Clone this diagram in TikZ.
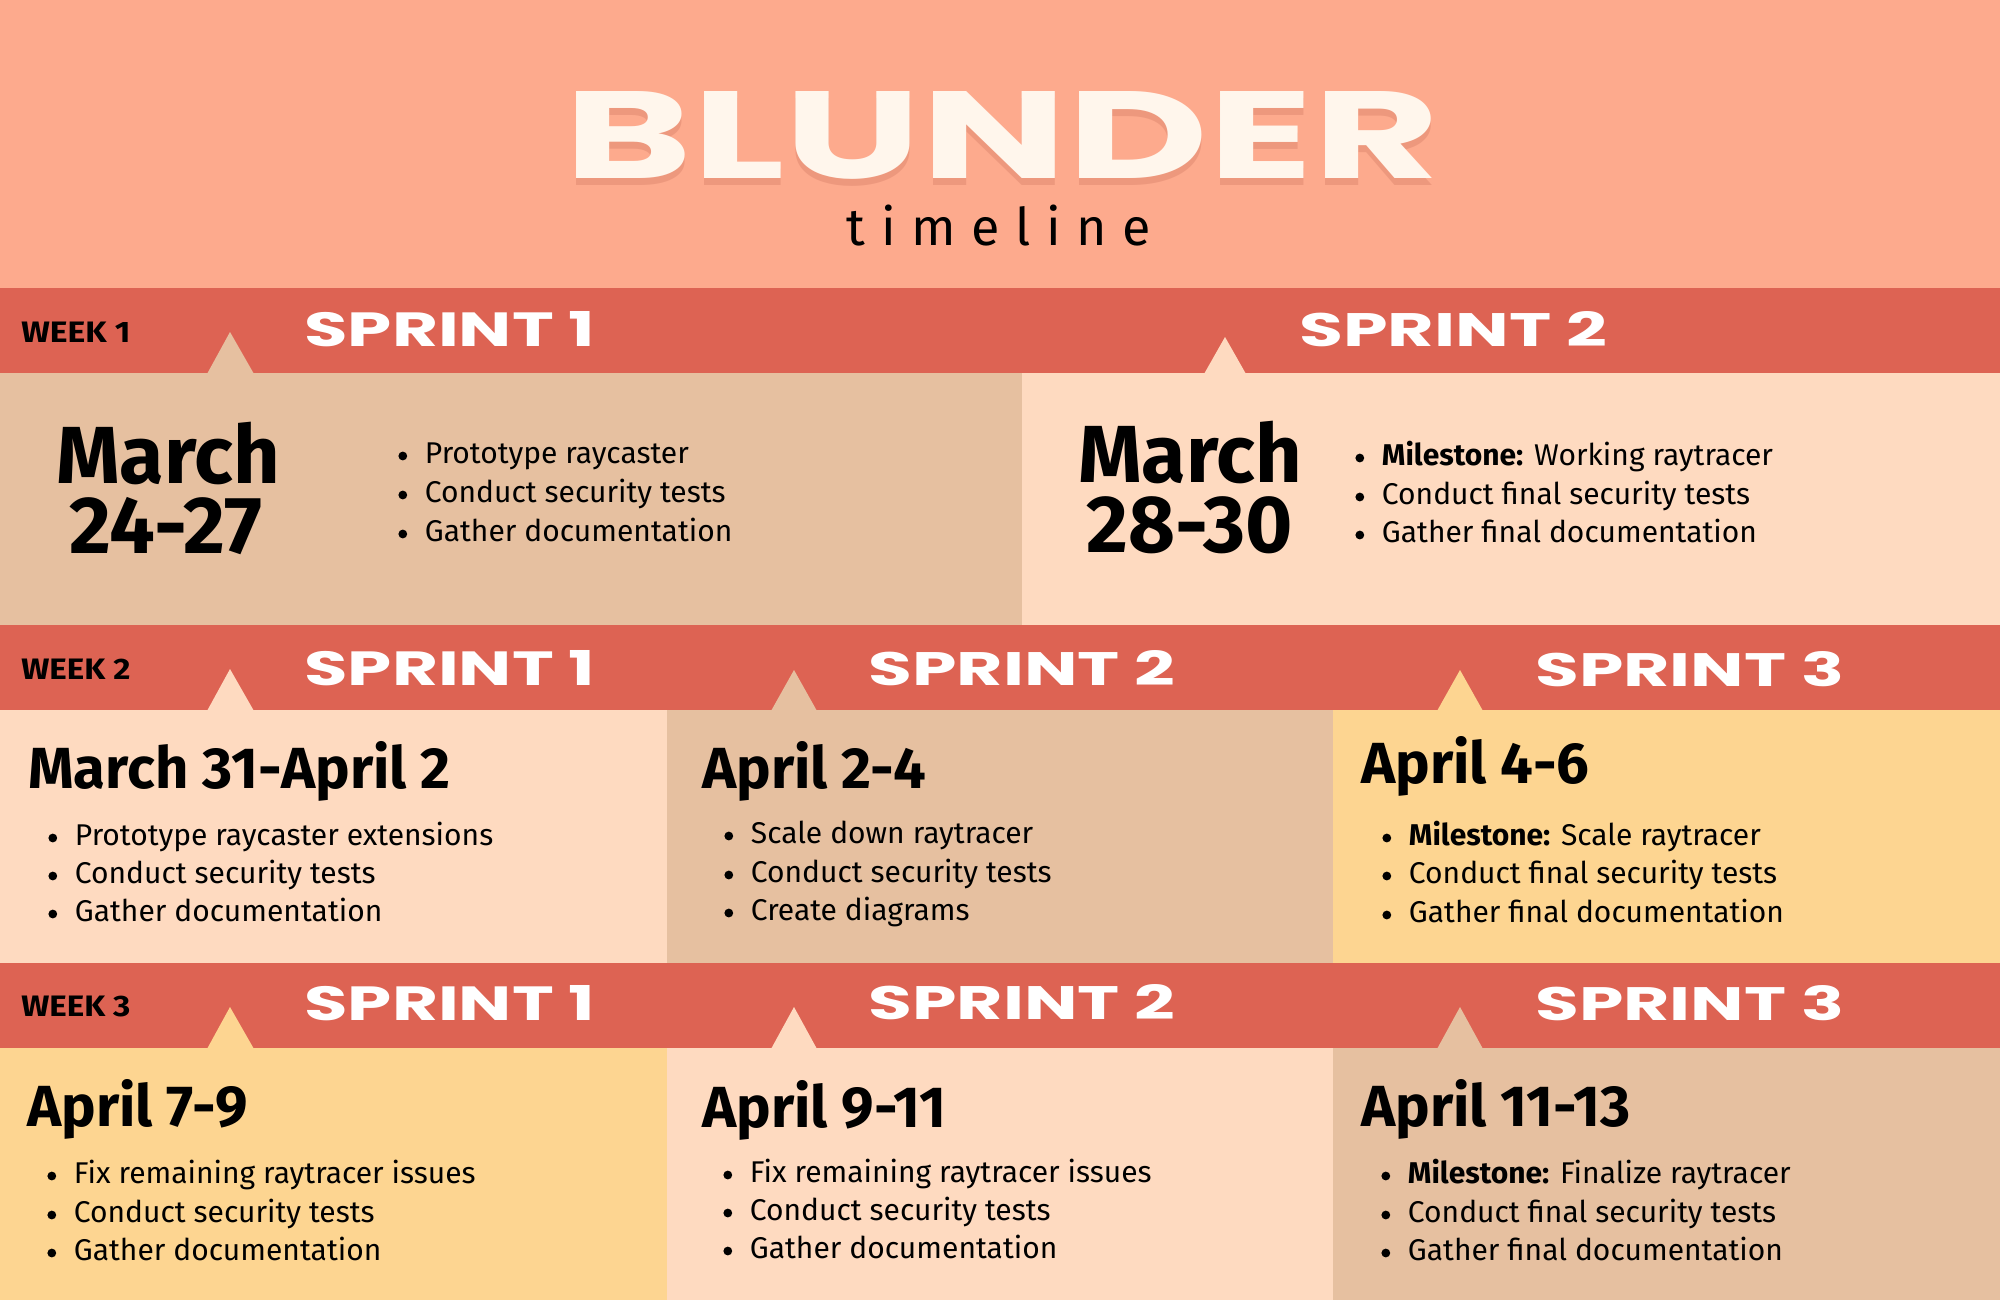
\documentclass[tikz,border=0pt]{standalone}
\usepackage{fontspec}
\setmainfont{Fira Sans}
\newfontfamily\heavy{Poppins}
\newfontfamily\spaced{Fira Sans}[LetterSpace=30]
\definecolor{hdr}{RGB}{253,170,141}
\definecolor{band}{RGB}{221,99,83}
\definecolor{tan}{RGB}{230,192,160}
\definecolor{peach}{RGB}{254,218,192}
\definecolor{yel}{RGB}{253,213,145}
\definecolor{cream}{RGB}{255,246,236}
\definecolor{shadowc}{RGB}{190,100,80}
\newcommand\bul{\makebox[13.25pt][l]{\tikz[baseline=0pt]\fill[black] (2.2pt,3.5pt) circle[radius=2.2pt];}}
\newcommand\sprintlbl[2]{\resizebox{#1}{17.5pt}{\heavy\bfseries SPRINT #2}}
\newcommand\weeklbl[1]{\resizebox{54.5pt}{10.25pt}{\bfseries WEEK #1}}
\tikzset{
  txt/.style={inner sep=0, anchor=base west},
  bl/.style={txt, font=\fontsize{15}{17}\selectfont},
  dt/.style={txt, font=\bfseries\fontsize{29}{31}\selectfont},
  bigdt/.style={inner sep=0, anchor=base, font=\bfseries\fontsize{40.5}{42}\selectfont},
  sprint/.style={txt, text=white},
  week/.style={txt, text=black},
}
\begin{document}
\begin{tikzpicture}[x=0.5pt,y=-0.5pt]
\useasboundingbox (0,0) rectangle (2000,1300);
% header
\fill[hdr] (0,0) rectangle (2000,288);
% bands
\fill[band] (0,288) rectangle (2000,373);
\fill[band] (0,625) rectangle (2000,710);
\fill[band] (0,963) rectangle (2000,1048);
% row 1 content
\fill[tan] (0,373) rectangle (1022,625);
\fill[peach] (1022,373) rectangle (2000,625);
\fill[tan] (207,374) -- (230,332) -- (254,374) -- cycle;
\fill[peach] (1204,374) -- (1225,337) -- (1246,374) -- cycle;
% row 2 content
\fill[peach] (0,710) rectangle (667,963);
\fill[tan] (667,710) rectangle (1333,963);
\fill[yel] (1333,710) rectangle (2000,963);
\fill[peach] (207,711) -- (230,669) -- (254,711) -- cycle;
\fill[tan] (771,711) -- (794,670) -- (817,711) -- cycle;
\fill[yel] (1437,711) -- (1460,670) -- (1483,711) -- cycle;
% row 3 content
\fill[yel] (0,1048) rectangle (667,1300);
\fill[peach] (667,1048) rectangle (1333,1300);
\fill[tan] (1333,1048) rectangle (2000,1300);
\fill[yel] (207,1049) -- (230,1007) -- (254,1049) -- cycle;
\fill[peach] (771,1049) -- (794,1007) -- (817,1049) -- cycle;
\fill[tan] (1437,1049) -- (1460,1007) -- (1483,1049) -- cycle;

% title with soft shadow
\node[txt, text=shadowc, text opacity=0.25] (titleshadow) at (564,186) {\resizebox{437.5pt}{43.5pt}{\heavy\bfseries BLUNDER}};
\node[txt, text=cream] (title) at (564,179) {\resizebox{437.5pt}{43.5pt}{\heavy\bfseries BLUNDER}};
\node[inner sep=0, anchor=base] (subtitle) at (999,245) {\spaced\fontsize{26}{28}\selectfont timeline};

% week labels
\node[week] (w1) at (21,342) {\weeklbl{1}};
\node[week] (w2) at (21,679) {\weeklbl{2}};
\node[week] (w3) at (21,1016) {\weeklbl{3}};

% sprint labels
\node[sprint] (r1s1) at (304,346) {\sprintlbl{145.5pt}{1}};
\node[sprint] (r1s2) at (1299,346) {\sprintlbl{154pt}{2}};
\node[sprint] (r2s1) at (304,685) {\sprintlbl{145.5pt}{1}};
\node[sprint] (r2s2) at (868,685) {\sprintlbl{153.5pt}{2}};
\node[sprint] (r2s3) at (1535,686) {\sprintlbl{154.5pt}{3}};
\node[sprint] (r3s1) at (304,1020) {\sprintlbl{145.5pt}{1}};
\node[sprint] (r3s2) at (868,1019) {\sprintlbl{153.5pt}{2}};
\node[sprint] (r3s3) at (1535,1020) {\sprintlbl{154.5pt}{3}};

% row 1 col 1
\node[bigdt] (d11a) at (168,483) {March};
\node[bigdt] (d11b) at (166,553) {24-27};
\node[bl] (b11a) at (398,463) {\bul Prototype raycaster};
\node[bl] (b11b) at (398,502) {\bul Conduct security tests};
\node[bl] (b11c) at (398,541) {\bul Gather documentation};
% row 1 col 2
\node[bigdt] (d12a) at (1190,482) {March};
\node[bigdt] (d12b) at (1190,552) {28-30};
\node[bl] (b12a) at (1355,465) {\bul\textbf{Milestone:} Working raytracer};
\node[bl] (b12b) at (1355,504) {\bul Conduct final security tests};
\node[bl] (b12c) at (1355,542) {\bul Gather final documentation};

% row 2
\node[dt] (d21) at (28,788) {March 31-April 2};
\node[bl] (b21a) at (48,845) {\bul Prototype raycaster extensions};
\node[bl] (b21b) at (48,883) {\bul Conduct security tests};
\node[bl] (b21c) at (48,921) {\bul Gather documentation};
\node[dt] (d22) at (702,788) {April 2-4};
\node[bl] (b22a) at (724,843) {\bul Scale down raytracer};
\node[bl] (b22b) at (724,882) {\bul Conduct security tests};
\node[bl] (b22c) at (724,920) {\bul Create diagrams};
\node[dt] (d23) at (1361,783) {April 4-6};
\node[bl] (b23a) at (1382,845) {\bul\textbf{Milestone:} Scale raytracer};
\node[bl] (b23b) at (1382,883) {\bul Conduct final security tests};
\node[bl] (b23c) at (1382,922) {\bul Gather final documentation};

% row 3
\node[dt] (d31) at (27,1126) {April 7-9};
\node[bl] (b31a) at (47,1183) {\bul Fix remaining raytracer issues};
\node[bl] (b31b) at (47,1222) {\bul Conduct security tests};
\node[bl] (b31c) at (47,1260) {\bul Gather documentation};
\node[dt] (d32) at (702,1127) {April 9-11};
\node[bl] (b32a) at (723,1182) {\bul Fix remaining raytracer issues};
\node[bl] (b32b) at (723,1220) {\bul Conduct security tests};
\node[bl] (b32c) at (723,1258) {\bul Gather documentation};
\node[dt] (d33) at (1361,1126) {April 11-13};
\node[bl] (b33a) at (1381,1183) {\bul\textbf{Milestone:} Finalize raytracer};
\node[bl] (b33b) at (1381,1222) {\bul Conduct final security tests};
\node[bl] (b33c) at (1381,1260) {\bul Gather final documentation};
\end{tikzpicture}
\end{document}
